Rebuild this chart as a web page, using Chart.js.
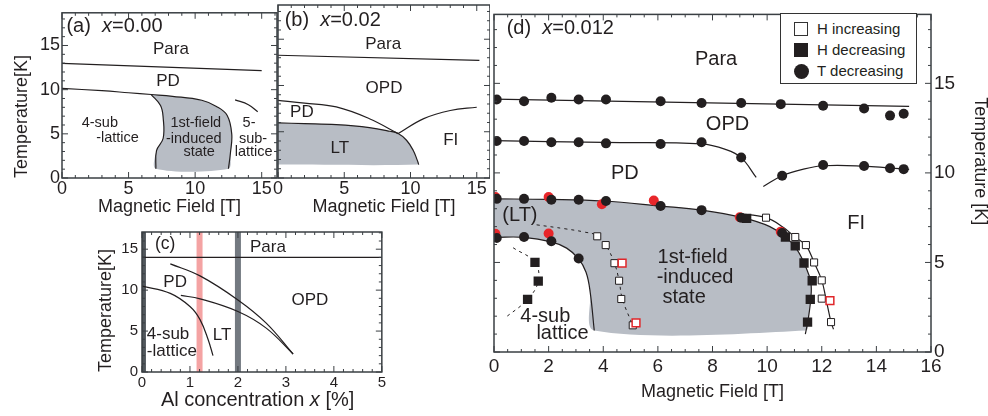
<!DOCTYPE html>
<html>
<head>
<meta charset="utf-8">
<script src="https://cdn.jsdelivr.net/npm/chart.js@4.4.1/dist/chart.umd.min.js"></script>
<style>
  body { margin: 0; background: #fff; width: 988px; height: 416px; position: relative; overflow: hidden;
         font-family: 'Liberation Sans', Arial, Helvetica, sans-serif; color: #231f20; }
  canvas { position: absolute; }
  #legend { position: absolute; left: 780px; top: 13px; width: 135px; height: 69px; border: 1px solid #333; background: #fff; }
  #legend .row { position: absolute; left: 0; width: 100%; height: 18px; }
  #legend .sym { position: absolute; left: 13px; top: 2px; width: 14px; height: 14px; box-sizing: border-box; }
  #legend .open { border: 1.5px solid #333; background: #fff; }
  #legend .full { background: #231f20; }
  #legend .dot { background: #231f20; border-radius: 50%; width: 15px; height: 15px; left: 12.5px; top: 1.5px; }
  #legend .lbl { position: absolute; left: 36px; top: 0; line-height: 18px; font-size: 15px; white-space: nowrap; }
</style>
</head>
<body>
<canvas id="chartA" style="left:0;top:0" width="278" height="222"></canvas>
<canvas id="chartB" style="left:262px;top:0" width="228" height="222"></canvas>
<canvas id="chartC" style="left:88px;top:215px" width="300" height="201"></canvas>
<canvas id="chartD" style="left:478px;top:0" width="510" height="416"></canvas>
<div id="legend">
  <div class="row" style="top:6px"><span class="sym open"></span><span class="lbl">H increasing</span></div>
  <div class="row" style="top:27px"><span class="sym full"></span><span class="lbl">H decreasing</span></div>
  <div class="row" style="top:48px"><span class="sym dot"></span><span class="lbl">T decreasing</span></div>
</div>
<script>
// ---- panel (a): x = 0.00 ----
const aParaX = [0, 15];
const aParaY = [12.98, 12.15];
const aPdX = [0, 3, 5, 6.7, 8.3, 10.5, 11.6, 12.4, 12.75, 12.65, 12.5];
const aPdY = [10.15, 9.88, 9.65, 9.45, 9.25, 8.8, 8.1, 7.1, 5.0, 2.8, 1.05];
const aFieldX = [6.7, 7.4, 7.6, 7.6, 7.1, 7.05];
const aFieldY = [9.45, 8.2, 6.8, 4.5, 3.1, 1.05];
const a5subX = [13.0, 14.0, 14.7];
const a5subY = [8.85, 8.3, 7.5];

// ---- panel (b): x = 0.02 ----
const bParaX = [0, 15.2];
const bParaY = [13.27, 12.72];
const bOpdX = [0, 2, 4.4, 6.9, 9.07];
const bOpdY = [8.4, 8.1, 7.68, 6.41, 4.8];
const bLtX = [0, 2, 4.4, 6.9, 8.44, 9.07, 9.7, 10.2, 10.5, 10.62];
const bLtY = [5.95, 5.88, 5.77, 5.45, 5.05, 4.8, 4.08, 3.0, 1.96, 1.45];
const bFiX = [9.07, 11, 13, 15];
const bFiY = [4.8, 6.42, 7.3, 7.65];
const bGreyBottom = 1.45;

// ---- panel (c): Al concentration ----
const cParaX = [0, 5];
const cParaY = [14, 14];
const cOpdX = [0.59, 1.21, 2.0, 2.59, 3.15];
const cOpdY = [13.2, 11.74, 8.8, 5.97, 2.2];
const cLtX = [0.81, 1.21, 2.0, 2.59, 3.15];
const cLtY = [9.35, 8.94, 7.39, 5.36, 2.2];
const cSubX = [0, 0.59, 1.0, 1.21, 1.38, 1.48];
const cSubY = [10.5, 9.6, 8.0, 6.4, 3.94, 2.0];
const cBandX = [0.03, 1.2, 2.0];

// ---- panel (d): x = 0.012 ----
const dTopCircX = [0.1, 1.1, 2.1, 3.1, 4.1, 6.1, 7.6, 9.05, 10.5, 12.05, 13.55, 14.5, 15.0];
const dTopCircY = [14.1, 14.0, 14.2, 14.1, 14.1, 14.0, 13.9, 13.9, 13.84, 13.75, 13.6, 13.2, 13.3];
const dTopLineX = [0, 15.2];
const dTopLineY = [14.12, 13.72];
const dOpdCircX = [0.1, 1.1, 2.1, 3.1, 4.1, 6.1, 7.6, 9.05];
const dOpdCircY = [11.78, 11.78, 11.71, 11.71, 11.65, 11.61, 11.71, 10.86];
const dOpdLineX = [0, 4, 7.6, 8.5, 9.05, 9.6];
const dOpdLineY = [11.8, 11.7, 11.62, 11.3, 10.85, 9.75];
const dFiCircX = [10.55, 12.05, 13.55, 14.5, 15.0];
const dFiCircY = [9.84, 10.44, 10.39, 10.26, 10.21];
const dFiLineX = [9.86, 10.55, 11.3, 12.05, 13.55, 14.5, 15.2];
const dFiLineY = [9.24, 9.84, 10.2, 10.4, 10.38, 10.27, 10.2];
const dLtCircX = [0.1, 1.1, 2.1, 3.1, 4.1, 6.1, 7.6, 9.05, 10.55];
const dLtCircY = [8.55, 8.55, 8.5, 8.5, 8.43, 8.15, 7.92, 7.5, 6.64];
const dSubCircX = [0.1, 1.1, 2.1, 3.1];
const dSubCircY = [6.37, 6.42, 6.18, 5.22];
const dRedCircX = [0.05, 2.0, 3.95, 5.85, 9.0, 10.5, 0.05, 2.0];
const dRedCircY = [8.65, 8.65, 8.25, 8.46, 7.52, 6.72, 6.6, 6.62];
const dLtLineX = [0, 2, 4, 6.1, 7.6, 9.1, 10.1, 10.7, 11.1, 11.4, 11.6, 11.6, 11.5, 11.4];
const dLtLineY = [8.55, 8.52, 8.43, 8.15, 7.92, 7.5, 7.0, 6.4, 5.7, 4.8, 3.9, 3.0, 1.8, 1.0];
const dOuterLineX = [8.9, 9.96, 10.6, 11.03, 11.42, 11.72, 12.0, 12.15, 12.34, 12.43];
const dOuterLineY = [7.73, 7.5, 6.95, 6.4, 5.95, 5.0, 4.0, 3.0, 1.67, 1.27];
const dSubLineX = [0, 1.1, 2.1, 2.66, 3.1, 3.37, 3.52, 3.67];
const dSubLineY = [6.4, 6.4, 6.15, 5.8, 5.2, 4.45, 3.36, 1.2];
const dGreyBottom = 1.2;
const dLtDashX = [1.56, 2.6, 3.3, 3.78, 4.09, 4.41, 4.58, 4.7, 5.08];
const dLtDashY = [7.1, 6.88, 6.7, 6.5, 5.97, 4.96, 3.98, 2.96, 1.49];
const dSubDashX = [0.7, 1.5, 1.62, 1.23, 0.4];
const dSubDashY = [5.82, 5.0, 3.96, 2.94, 1.9];
const dOpenX = [3.78, 4.09, 4.41, 4.58, 4.66, 5.08, 9.96, 11.03, 11.42, 11.72, 12.0, 12.0, 12.34];
const dOpenY = [6.46, 5.97, 4.96, 3.98, 2.96, 1.49, 7.5, 6.42, 5.97, 5.0, 4.0, 2.98, 1.67];
const dOpenRedX = [4.69, 5.2, 12.3];
const dOpenRedY = [4.96, 1.63, 2.87];
const dFilledX = [1.5, 1.62, 1.23, 9.25, 10.67, 11.03, 11.35, 11.65, 11.58, 11.48];
const dFilledY = [5.0, 3.96, 2.94, 7.46, 6.42, 5.93, 4.97, 3.98, 2.94, 1.67];

const FONT = "'Liberation Sans', Arial, Helvetica, sans-serif";
const INK = '#231f20';
const GREY = '#b8bdc5';

function pts(xs, ys) {
  return xs.map((x, i) => ({ x: x, y: ys[i] }));
}

function curve(xs, ys, o) {
  o = o || {};
  return {
    data: pts(xs, ys), showLine: true, pointRadius: 0, fill: false,
    borderColor: o.color || INK, borderWidth: o.w || 1.2, borderDash: o.dash || [],
    tension: o.tension === undefined ? 0.4 : o.tension, order: o.order || 5,
    clip: o.clip
  };
}

function region(xs, ys) {
  return {
    data: pts(xs, ys), showLine: true, pointRadius: 0, borderWidth: 0,
    borderColor: 'rgba(0,0,0,0)', backgroundColor: GREY, fill: 'shape', tension: 0.3, order: 20
  };
}

function marks(xs, ys, o) {
  return {
    data: pts(xs, ys), showLine: false, pointStyle: o.style, pointRadius: o.r,
    backgroundColor: o.fill, borderColor: o.line || o.fill, borderWidth: o.bw || 0, order: o.order
  };
}

function axis(o) {
  return {
    type: 'linear', min: o.min, max: o.max, position: o.pos, display: o.display !== false,
    grid: { display: false, drawTicks: false }, border: { display: false },
    ticks: { stepSize: o.step, includeBounds: false, padding: o.pad || 0, color: INK,
             font: { size: o.size || 18, family: FONT }, maxRotation: 0, autoSkip: false },
    title: o.title ? { display: true, text: o.title, color: INK, align: o.align || 'center',
                       font: { size: 18, family: FONT }, padding: o.tpad || 0 } : { display: false },
    afterFit: function (s) {
      if (o.w !== undefined) s.width = o.w;
      if (o.h !== undefined) s.height = o.h;
    }
  };
}

// text can be a plain string or a list of [piece, italic] parts
function drawText(ctx, t, px, py) {
  const parts = Array.isArray(t.t) ? t.t : [[t.t, false]];
  const fontOf = it => (it ? 'italic ' : '') + t.size + 'px ' + FONT;
  let w = 0;
  parts.forEach(p => { ctx.font = fontOf(p[1]); w += ctx.measureText(p[0]).width; });
  ctx.save();
  ctx.translate(px, py);
  if (t.rot) ctx.rotate(t.rot);
  ctx.fillStyle = INK;
  ctx.textBaseline = 'middle';
  ctx.textAlign = 'left';
  let x = t.align === 'left' ? 0 : -w / 2;
  parts.forEach(p => {
    ctx.font = fontOf(p[1]);
    ctx.fillText(p[0], x, 0);
    x += ctx.measureText(p[0]).width;
  });
  ctx.restore();
}

function eachStep(min, max, minor, major, fn) {
  const first = Math.ceil(min / minor - 1e-6), last = Math.floor(max / minor + 1e-6);
  for (let i = first; i <= last; i++) {
    const v = i * minor;
    const r = v / major;
    fn(v, Math.abs(r - Math.round(r)) < 1e-6);
  }
}

// box frame with inward ticks on four sides, plus the labels
function overlay(frame, texts) {
  return {
    id: 'overlay',
    afterDatasetsDraw(chart) {
      const ctx = chart.ctx, a = chart.chartArea;
      const xs = chart.scales.x, ys = chart.scales.y;
      ctx.save();
      ctx.strokeStyle = '#3a3f43';
      ctx.lineWidth = 1.5;
      ctx.strokeRect(a.left, a.top, a.right - a.left, a.bottom - a.top);
      ctx.lineWidth = 1;
      ctx.beginPath();
      eachStep(xs.min, xs.max, frame.xMinor, frame.xMajor, (v, major) => {
        const p = xs.getPixelForValue(v), L = major ? 6 : 3;
        ctx.moveTo(p, a.bottom); ctx.lineTo(p, a.bottom - L);
        ctx.moveTo(p, a.top); ctx.lineTo(p, a.top + L);
      });
      eachStep(ys.min, ys.max, frame.yMinor, frame.yMajor, (v, major) => {
        const p = ys.getPixelForValue(v), L = major ? 6 : 3;
        ctx.moveTo(a.left, p); ctx.lineTo(a.left + L, p);
        ctx.moveTo(a.right, p); ctx.lineTo(a.right - L, p);
      });
      ctx.stroke();
      ctx.restore();
      texts.forEach(t => drawText(ctx, t, xs.getPixelForValue(t.x), ys.getPixelForValue(t.y)));
    }
  };
}

function panel(id, cfg) {
  return new Chart(document.getElementById(id), {
    type: 'scatter',
    data: { datasets: cfg.datasets },
    options: {
      responsive: false, animation: false, devicePixelRatio: 1, events: [],
      layout: { padding: cfg.padding },
      plugins: { legend: { display: false }, tooltip: { enabled: false } },
      scales: cfg.scales
    },
    plugins: [overlay(cfg.frame, cfg.texts)]
  });
}

// (a)
const aRegX = aPdX.slice(3).concat(aFieldX.slice().reverse());
const aRegY = aPdY.slice(3).concat(aFieldY.slice().reverse());
panel('chartA', {
  padding: { left: 0, top: 5, right: 1, bottom: 0 },
  datasets: [
    curve(aParaX, aParaY, { tension: 0 }),
    curve(aPdX, aPdY),
    curve(aFieldX, aFieldY),
    curve(a5subX, a5subY),
    region(aRegX, aRegY)
  ],
  scales: {
    x: axis({ min: 0, max: 16.15, step: 5, pos: 'bottom', h: 44, pad: 0, title: 'Magnetic Field [T]', tpad: { top: 0, bottom: 4 } }),
    y: axis({ min: 0, max: 18.7, step: 5, pos: 'left', w: 62, pad: 2, title: 'Temperature[K]', align: 'start', tpad: { top: 11, bottom: 0 } })
  },
  frame: { xMinor: 1, xMajor: 5, yMinor: 1, yMajor: 5 },
  texts: [
    { t: [['(a)  ', false], ['x', true], ['=0.00', false]], x: 0.33, y: 17.2, size: 20, align: 'left' },
    { t: 'Para', x: 8.18, y: 14.6, size: 17 },
    { t: 'PD', x: 7.96, y: 10.9, size: 17 },
    { t: '4-sub', x: 2.84, y: 6.2, size: 14.5 },
    { t: '-lattice', x: 4.17, y: 4.5, size: 14.5 },
    { t: '1st-field', x: 10.05, y: 6.2, size: 14.5 },
    { t: '-induced', x: 9.9, y: 4.4, size: 14.5 },
    { t: 'state', x: 10.3, y: 2.9, size: 14.5 },
    { t: '5-', x: 14.05, y: 6.2, size: 14.5 },
    { t: 'sub-', x: 14.35, y: 4.4, size: 14.5 },
    { t: 'lattice', x: 14.4, y: 2.9, size: 14.5 }
  ]
});

// (b)
const bRegX = bLtX.concat([0]);
const bRegY = bLtY.concat([bGreyBottom]);
panel('chartB', {
  padding: { left: 16, top: 5, right: 0, bottom: 0 },
  datasets: [
    curve(bParaX, bParaY, { tension: 0 }),
    curve(bOpdX, bOpdY),
    curve(bLtX, bLtY),
    curve(bFiX, bFiY),
    region(bRegX, bRegY)
  ],
  scales: {
    x: axis({ min: 0, max: 16, step: 5, pos: 'bottom', h: 44, pad: 0, title: 'Magnetic Field [T]', tpad: { top: 0, bottom: 4 } }),
    y: axis({ min: 0, max: 18.7, step: 5, pos: 'left', display: false })
  },
  frame: { xMinor: 1, xMajor: 5, yMinor: 1, yMajor: 5 },
  texts: [
    { t: [['(b)  ', false], ['x', true], ['=0.02', false]], x: 0.5, y: 17.05, size: 20, align: 'left' },
    { t: 'Para', x: 7.94, y: 14.5, size: 17 },
    { t: 'OPD', x: 8.0, y: 9.67, size: 17 },
    { t: 'PD', x: 1.8, y: 7.05, size: 17 },
    { t: 'LT', x: 4.66, y: 3.26, size: 17 },
    { t: 'FI', x: 13.04, y: 4.08, size: 17 }
  ]
});

// (c)
const cBandColors = ['#50565b', '#f4a3a3', '#737980'];
const cBands = cBandX.map((bx, i) => ({
  data: pts([bx, bx], [-1, 20]), showLine: true, pointRadius: 0, fill: false,
  borderColor: cBandColors[i], borderWidth: i === 0 ? 5 : 6, order: 20, clip: 0
}));
panel('chartC', {
  padding: { left: 0, top: 17, right: 6, bottom: 0 },
  datasets: [
    curve(cParaX, cParaY, { tension: 0 }),
    curve(cOpdX, cOpdY),
    curve(cLtX, cLtY),
    curve(cSubX, cSubY)
  ].concat(cBands),
  scales: {
    x: axis({ min: 0, max: 5, step: 1, pos: 'bottom', h: 44, pad: 2, size: 15 }),
    y: axis({ min: 0, max: 17.1, step: 5, pos: 'left', w: 54, pad: 4, size: 15, title: 'Temperature[K]', align: 'start', tpad: { top: 7, bottom: 0 } })
  },
  frame: { xMinor: 0.2, xMajor: 1, yMinor: 1, yMajor: 5 },
  texts: [
    { t: '(c)', x: 0.27, y: 15.6, size: 17.5, align: 'left' },
    { t: 'Para', x: 2.25, y: 15.2, size: 17, align: 'left' },
    { t: 'PD', x: 0.69, y: 11.0, size: 17 },
    { t: 'LT', x: 1.67, y: 4.43, size: 17 },
    { t: '4-sub', x: 0.1, y: 4.55, size: 17, align: 'left' },
    { t: '-lattice', x: 0.1, y: 2.5, size: 17, align: 'left' },
    { t: 'OPD', x: 3.5, y: 8.8, size: 17 },
    { t: [['Al concentration ', false], ['x', true], [' [%]', false]], x: 2.41, y: -3.45, size: 20 }
  ]
});

// (d)
const dRegX = dLtLineX.slice(0, -1).concat([11.42], dSubLineX.slice().reverse());
const dRegY = dLtLineY.slice(0, -1).concat([dGreyBottom], dSubLineY.slice().reverse());
panel('chartD', {
  padding: { left: 16, top: 7, right: 0, bottom: 0 },
  datasets: [
    marks(dOpenRedX, dOpenRedY, { style: 'rect', r: 5.5, fill: '#fff', line: '#e0262a', bw: 1.5, order: 0 }),
    marks(dOpenX, dOpenY, { style: 'rect', r: 5, fill: '#fff', line: INK, bw: 1, order: 1 }),
    marks(dFilledX, dFilledY, { style: 'rect', r: 6.6, fill: INK, order: 2 }),
    marks(dTopCircX.concat(dOpdCircX, dFiCircX, dLtCircX, dSubCircX),
          dTopCircY.concat(dOpdCircY, dFiCircY, dLtCircY, dSubCircY),
          { style: 'circle', r: 5, fill: INK, order: 3 }),
    marks(dRedCircX, dRedCircY, { style: 'circle', r: 5, fill: '#e8262a', order: 4 }),
    curve(dTopLineX, dTopLineY, { tension: 0 }),
    curve(dOpdLineX, dOpdLineY),
    curve(dFiLineX, dFiLineY),
    curve(dLtLineX, dLtLineY),
    curve(dOuterLineX, dOuterLineY),
    curve(dSubLineX, dSubLineY),
    curve(dLtDashX, dLtDashY, { w: 1, dash: [3, 4] }),
    curve(dSubDashX, dSubDashY, { w: 1, dash: [3, 4] }),
    region(dRegX, dRegY)
  ],
  scales: {
    x: axis({ min: 0, max: 16, step: 2, pos: 'bottom', h: 64, pad: 3, size: 19, title: 'Magnetic Field [T]', tpad: { top: 0, bottom: 13 } }),
    y: axis({ min: 0, max: 18.85, step: 5, pos: 'left', display: false }),
    yR: axis({ min: 0, max: 18.85, step: 5, pos: 'right', w: 57, pad: 3, size: 19 })
  },
  frame: { xMinor: 0.5, xMajor: 2, yMinor: 1, yMajor: 5 },
  texts: [
    { t: [['(d)  ', false], ['x', true], ['=0.012', false]], x: 0.465, y: 18.04, size: 20, align: 'left' },
    { t: 'Para', x: 8.13, y: 16.31, size: 20 },
    { t: 'OPD', x: 8.55, y: 12.71, size: 20 },
    { t: 'PD', x: 4.79, y: 9.96, size: 20 },
    { t: 'FI', x: 13.26, y: 7.2, size: 20 },
    { t: '(LT)', x: 0.95, y: 7.64, size: 20 },
    { t: '1st-field', x: 7.27, y: 5.26, size: 20 },
    { t: '-induced', x: 7.36, y: 4.18, size: 20 },
    { t: 'state', x: 6.96, y: 3.05, size: 20 },
    { t: '4-sub', x: 1.88, y: 2.01, size: 20 },
    { t: 'lattice', x: 2.51, y: 1.01, size: 20 },
    { t: 'Temperature [K]', x: 17.8, y: 10.65, size: 18, rot: Math.PI / 2 }
  ]
});
</script>
</body>
</html>
